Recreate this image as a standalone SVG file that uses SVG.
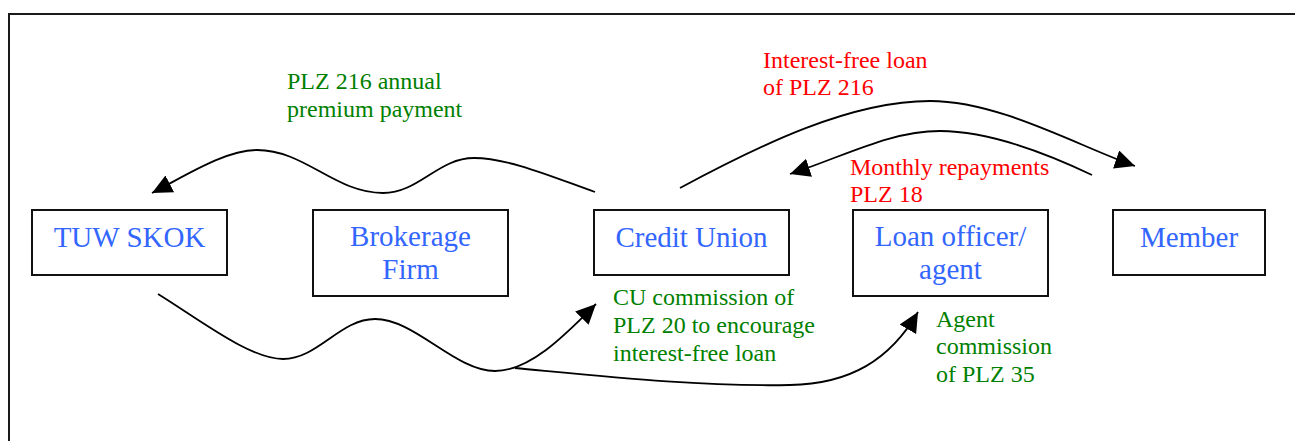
<svg xmlns="http://www.w3.org/2000/svg" width="1295" height="441" viewBox="0 0 1295 441">
  <style>
    .frame { fill: none; stroke: #1a1a1a; stroke-width: 2; }
    .box { fill: #ffffff; stroke: #111111; stroke-width: 2; }
    .node-label { font-family: "Liberation Serif", "Times New Roman", serif; font-size: 29px; fill: #3366ff; text-anchor: middle; }
    .flow { fill: none; stroke: #000000; stroke-width: 1.8; }
    .note { font-family: "Liberation Serif", "Times New Roman", serif; font-size: 24px; }
    .green { fill: #008000; }
    .red { fill: #ff0000; }
  </style>
  <defs>
    <marker id="arrow" markerUnits="userSpaceOnUse" markerWidth="22" markerHeight="20" refX="20" refY="9.5" orient="auto" viewBox="0 0 22 20">
      <path d="M0,0 L20,9.5 L0,19 Z" fill="#000000"/>
    </marker>
  </defs>

  <rect width="1295" height="441" fill="#ffffff"/>

  <!-- outer frame (top and left edges visible) -->
  <path class="frame" d="M9,441 L9,14 L1295,14"/>

  <!-- connectors -->
  <g id="connectors">
    <!-- premium payment: Credit Union to TUW SKOK -->
    <path class="flow" marker-end="url(#arrow)" d="M595,192 C555,178 509,158 474,158 C438,158 419,193 383,193 C335,193 305,150 257,150 C225,150 185,176 152,193"/>
    <!-- interest-free loan: Credit Union to Member -->
    <path class="flow" marker-end="url(#arrow)" d="M680,188 C760,145 850,101 930,101 C1000,101 1080,147 1135,166"/>
    <!-- monthly repayments: Member back to Credit Union -->
    <path class="flow" marker-end="url(#arrow)" d="M1092,175 C1050,155 990,131 940,131 C890,131 845,156 790,174"/>
    <!-- CU commission: TUW SKOK to Credit Union -->
    <path class="flow" marker-end="url(#arrow)" d="M158,294 C200,320 250,359 283,359 C318,359 340,319 375,319 C415,319 455,371 495,371 C530,371 565,335 596,304"/>
    <!-- agent commission branch to Loan officer -->
    <path class="flow" marker-end="url(#arrow)" d="M515,368 C600,376 700,387 790,385 C850,384 890,360 918,312"/>
  </g>

  <!-- nodes -->
  <g id="node-tuw-skok">
    <rect class="box" x="32" y="210" width="195" height="65"/>
    <text class="node-label" x="129.5" y="247">TUW SKOK</text>
  </g>
  <g id="node-brokerage">
    <rect class="box" x="313" y="210" width="195" height="86"/>
    <text class="node-label" x="410.5" y="246">Brokerage</text>
    <text class="node-label" x="410.5" y="279">Firm</text>
  </g>
  <g id="node-credit-union">
    <rect class="box" x="594" y="210" width="195" height="65"/>
    <text class="node-label" x="691.5" y="247">Credit Union</text>
  </g>
  <g id="node-loan-officer">
    <rect class="box" x="853" y="210" width="195" height="86"/>
    <text class="node-label" x="950.5" y="246">Loan officer/</text>
    <text class="node-label" x="950.5" y="279">agent</text>
  </g>
  <g id="node-member">
    <rect class="box" x="1113" y="210" width="152" height="65"/>
    <text class="node-label" x="1189" y="247">Member</text>
  </g>

  <!-- flow labels -->
  <g id="labels">
    <text class="note green" x="287" y="89">PLZ 216 annual</text>
    <text class="note green" x="287" y="117">premium payment</text>

    <text class="note red" x="763" y="68">Interest-free loan</text>
    <text class="note red" x="763" y="95">of PLZ 216</text>

    <text class="note red" x="850" y="175">Monthly repayments</text>
    <text class="note red" x="850" y="202">PLZ 18</text>

    <text class="note green" x="613" y="305">CU commission of</text>
    <text class="note green" x="613" y="333">PLZ 20 to encourage</text>
    <text class="note green" x="613" y="361">interest-free loan</text>

    <text class="note green" x="936" y="327">Agent</text>
    <text class="note green" x="936" y="354">commission</text>
    <text class="note green" x="936" y="382">of PLZ 35</text>
  </g>
</svg>
